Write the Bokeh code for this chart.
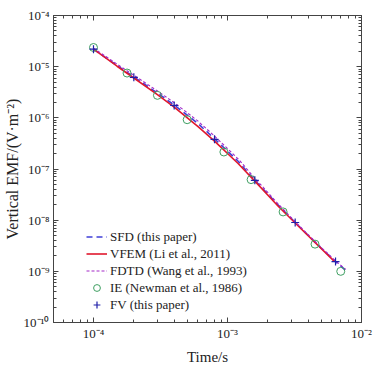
from bokeh.plotting import figure
from bokeh.models import LogAxis, FixedTicker, CustomJSTickFormatter, Legend, LegendItem
from bokeh.embed import file_html
from bokeh.resources import INLINE

# ---- data ----
sfd_t = [1e-4, 1.5e-4, 2e-4, 3e-4, 4e-4, 6e-4, 8e-4, 1.2e-3, 1.6e-3, 2.4e-3, 3.2e-3, 4.8e-3, 6.4e-3, 7.6e-3]
sfd_v = [2.2e-5, 1.05e-5, 6.3e-6, 3.05e-6, 1.78e-6, 7.8e-7, 3.9e-7, 1.42e-7, 6.0e-8, 1.95e-8, 9.0e-9, 3.15e-9, 1.55e-9, 1.05e-9]

vfem_t = [1e-4, 1.5e-4, 2e-4, 3e-4, 4e-4, 6e-4, 8e-4, 1.2e-3, 1.6e-3, 2.4e-3, 3.2e-3, 4.8e-3, 6.3e-3]
vfem_v = [2.2e-5, 1.02e-5, 6.0e-6, 2.85e-6, 1.62e-6, 6.8e-7, 3.5e-7, 1.28e-7, 5.8e-8, 1.85e-8, 8.8e-9, 3.1e-9, 1.55e-9]

fdtd_t = [1e-4, 1.5e-4, 2e-4, 3e-4, 4e-4, 6e-4, 8e-4, 1.2e-3, 1.6e-3, 2.4e-3, 3.2e-3, 4.8e-3, 6.4e-3, 7.6e-3]
fdtd_v = [2.3e-5, 1.12e-5, 6.8e-6, 3.35e-6, 1.98e-6, 8.7e-7, 4.4e-7, 1.58e-7, 6.6e-8, 2.05e-8, 9.3e-9, 3.25e-9, 1.6e-9, 1.1e-9]

ie_t = [1.0e-4, 1.78e-4, 3.0e-4, 5.0e-4, 9.4e-4, 1.5e-3, 2.6e-3, 4.5e-3, 7.0e-3]
ie_v = [2.37e-5, 7.5e-6, 2.75e-6, 9.2e-7, 2.15e-7, 6.2e-8, 1.45e-8, 3.4e-9, 1.0e-9]

fv_t = [1e-4, 2e-4, 4e-4, 8e-4, 1.6e-3, 3.2e-3, 6.4e-3]
fv_v = [2.2e-5, 6.2e-6, 1.75e-6, 3.8e-7, 6.0e-8, 9.0e-9, 1.55e-9]

x_major = [1e-4, 1e-3, 1e-2]
y_major = [1e-10, 1e-9, 1e-8, 1e-7, 1e-6, 1e-5, 1e-4]

labels = ["SFD (this paper)", "VFEM (Li et al., 2011)", "FDTD (Wang et al., 1993)",
          "IE (Newman et al., 1986)", "FV (this paper)"]

FONT = "Liberation Serif"
AX = "#444444"

x_minor = [k * 10.0 ** e for e in range(-5, -2) for k in range(2, 10)]
y_minor = [k * 10.0 ** e for e in range(-10, -4) for k in range(2, 10)]

p = figure(frame_width=308, frame_height=307, x_axis_type="log", y_axis_type="log",
           x_range=(5.03e-5, 1e-2), y_range=(1e-10, 1e-4),
           output_backend="svg", toolbar_location=None,
           min_border_left=53, min_border_right=16, min_border_top=15, min_border_bottom=43)
p.xgrid.visible = False
p.ygrid.visible = False
p.outline_line_color = AX
p.background_fill_color = "white"
p.border_fill_color = "white"

fmt = CustomJSTickFormatter(code="""
const e = Math.round(Math.log10(tick));
const sup = {'-':'\\u207B','0':'\\u2070','1':'\\u00B9','2':'\\u00B2','3':'\\u00B3','4':'\\u2074',
             '5':'\\u2075','6':'\\u2076','7':'\\u2077','8':'\\u2078','9':'\\u2079'};
return '10' + String(e).split('').map(c => sup[c]).join('');
""")
blank = CustomJSTickFormatter(code="return '';")


def style(ax):
    ax.axis_line_color = AX
    ax.major_tick_line_color = AX
    ax.minor_tick_line_color = AX
    ax.major_tick_in = 5
    ax.major_tick_out = 0
    ax.minor_tick_in = 3
    ax.minor_tick_out = 0
    ax.major_label_text_font = FONT
    ax.major_label_text_font_size = "13px"
    ax.major_label_text_color = "#222222"
    ax.axis_label_text_font = FONT
    ax.axis_label_text_font_style = "normal"
    ax.axis_label_text_color = "#222222"


xt = FixedTicker(ticks=x_major, minor_ticks=x_minor)
yt = FixedTicker(ticks=y_major, minor_ticks=y_minor)

p.xaxis.ticker = xt
p.yaxis.ticker = yt
p.xaxis.formatter = fmt
p.yaxis.formatter = fmt
p.xaxis.axis_label = "Time/s"
p.yaxis.axis_label = "Vertical EMF/(V\u00b7m\u207b\u00b2)"
for a in p.xaxis + p.yaxis:
    style(a)
p.xaxis.major_label_standoff = 3
p.xaxis.axis_label_standoff = 5
p.xaxis.axis_label_text_font_size = "15px"
p.yaxis.major_label_standoff = 4
p.yaxis.axis_label_standoff = 0
p.yaxis.axis_label_text_font_size = "16px"

top = LogAxis(ticker=FixedTicker(ticks=x_major, minor_ticks=x_minor), formatter=blank)
right = LogAxis(ticker=FixedTicker(ticks=y_major, minor_ticks=y_minor), formatter=blank)
for a in (top, right):
    style(a)
    a.major_label_standoff = 0
    a.major_label_text_font_size = "1px"
p.add_layout(top, "above")
p.add_layout(right, "right")

r_sfd = p.line(sfd_t, sfd_v, line_color="#3f3fd8", line_width=1.6, line_dash="6 4")
r_vfem = p.line(vfem_t, vfem_v, line_color="#e0182d", line_width=1.6)
r_fdtd = p.line(fdtd_t, fdtd_v, line_color="#a428c8", line_width=1.1, line_dash="3 2")
r_ie = p.scatter(ie_t, ie_v, marker="circle", size=8, fill_color=None,
                 line_color="#3f9f62", line_width=1)
r_fv = p.scatter(fv_t, fv_v, marker="cross", size=8, line_color="#1f1fa8", line_width=1.2)

legend = Legend(items=[LegendItem(label=l, renderers=[r]) for l, r in
                       zip(labels, [r_sfd, r_vfem, r_fdtd, r_ie, r_fv])],
                location=(33, 9))
legend.border_line_alpha = 0
legend.background_fill_alpha = 0
legend.label_text_font = FONT
legend.label_text_font_size = "13px"
legend.label_text_color = "#222222"
legend.glyph_width = 21
legend.glyph_height = 17
legend.label_height = 17
legend.label_standoff = 3
legend.spacing = 0
legend.padding = 0
legend.margin = 0
p.add_layout(legend, "center")

open("out.html", "w", encoding="utf-8").write(file_html(p, INLINE))
